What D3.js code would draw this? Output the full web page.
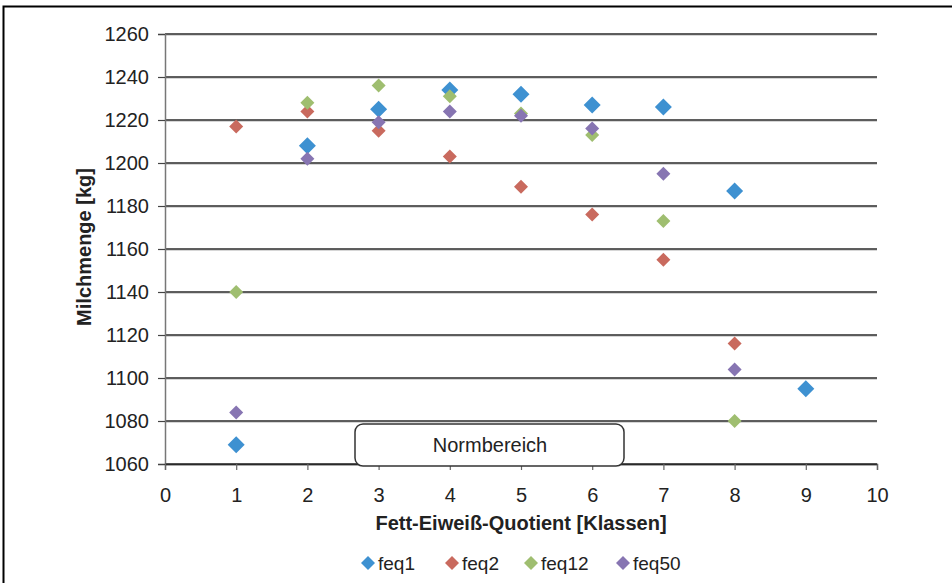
<!DOCTYPE html>
<html>
<head>
<meta charset="utf-8">
<script src="https://cdn.jsdelivr.net/npm/d3@7"></script>
<style>
  body { margin: 0; background: #fff; }
  svg { display: block; font-family: "Liberation Sans", Arial, sans-serif; }
</style>
</head>
<body>
<svg id="chart" width="952" height="583"></svg>
<script>
const classes = [1, 2, 3, 4, 5, 6, 7, 8, 9];
const feq1 = [1069, 1208, 1225, 1234, 1232, 1227, 1226, 1187, 1095];
const feq2 = [1217, 1224, 1215, 1203, 1189, 1176, 1155, 1116];
const feq12 = [1140, 1228, 1236, 1231, 1223, 1213, 1173, 1080];
const feq50 = [1084, 1202, 1219, 1224, 1222, 1216, 1195, 1104];
const xTicks = [0, 1, 2, 3, 4, 5, 6, 7, 8, 9, 10];
const yTicks = [1060, 1080, 1100, 1120, 1140, 1160, 1180, 1200, 1220, 1240, 1260];

const series = [
  { name: "feq1", values: feq1, color: "#3e91d1", size: 8.5 },
  { name: "feq2", values: feq2, color: "#c96a5e", size: 7 },
  { name: "feq12", values: feq12, color: "#9fbe70", size: 7 },
  { name: "feq50", values: feq50, color: "#8775b2", size: 7 },
];

const plot = { left: 165, right: 877, top: 34, bottom: 464 };
const FONT = "Liberation Sans, Arial, sans-serif";

const x = d3.scaleLinear().domain([0, 10]).range([plot.left, plot.right]);
const y = d3.scaleLinear().domain([1060, 1260]).range([plot.bottom, plot.top]);

const svg = d3.select("#chart");

// outer frame
svg.append("rect")
  .attr("x", 3.5).attr("y", 6.5)
  .attr("width", 960).attr("height", 600)
  .attr("fill", "none").attr("stroke", "#000").attr("stroke-width", 2);

// gridlines with a light shadow
const grid = svg.append("g");
grid.selectAll("line.shadow")
  .data(yTicks)
  .join("line")
  .attr("class", "shadow")
  .attr("x1", plot.left).attr("x2", plot.right)
  .attr("y1", (d) => y(d) + 1.2).attr("y2", (d) => y(d) + 1.2)
  .attr("stroke", "#c4c4c4").attr("stroke-width", 1);
grid.selectAll("line.main")
  .data(yTicks)
  .join("line")
  .attr("class", "main")
  .attr("x1", plot.left).attr("x2", plot.right)
  .attr("y1", (d) => y(d)).attr("y2", (d) => y(d))
  .attr("stroke", "#2a2a2a").attr("stroke-width", 1.3);

// y axis
const yAxis = svg.append("g")
  .attr("transform", `translate(${plot.left},0)`)
  .call(d3.axisLeft(y).tickValues(yTicks).tickFormat(d3.format("d")).tickSize(7).tickPadding(9));
yAxis.select(".domain").attr("stroke", "#777").attr("stroke-width", 1.5);
yAxis.selectAll(".tick line").attr("stroke", "#444").attr("stroke-width", 1.2);
yAxis.selectAll(".tick text")
  .attr("font-size", 20).attr("fill", "#222").attr("font-family", FONT);

// x axis
const xAxis = svg.append("g")
  .attr("transform", `translate(0,${plot.bottom})`)
  .call(d3.axisBottom(x).tickValues(xTicks).tickFormat(d3.format("d")).tickSize(6).tickPadding(18));
xAxis.select(".domain").attr("stroke", "#2a2a2a").attr("stroke-width", 1.3);
xAxis.selectAll(".tick line").attr("stroke", "#666").attr("stroke-width", 1.2);
xAxis.selectAll(".tick text")
  .attr("font-size", 20).attr("fill", "#222").attr("font-family", FONT);

// axis titles
svg.append("text")
  .attr("x", (plot.left + plot.right) / 2).attr("y", 530)
  .attr("text-anchor", "middle")
  .attr("font-size", 20).attr("font-weight", "bold").attr("fill", "#222")
  .text("Fett-Eiweiß-Quotient [Klassen]");

svg.append("text")
  .attr("transform", `translate(91,247) rotate(-90)`)
  .attr("text-anchor", "middle")
  .attr("font-size", 20).attr("font-weight", "bold").attr("fill", "#222")
  .text("Milchmenge [kg]");

// Normbereich box
const norm = svg.append("g");
norm.append("rect")
  .attr("x", 355).attr("y", 424)
  .attr("width", 269).attr("height", 42)
  .attr("rx", 8).attr("ry", 8)
  .attr("fill", "#fff").attr("stroke", "#333").attr("stroke-width", 1.5);
norm.append("text")
  .attr("x", 490).attr("y", 452)
  .attr("text-anchor", "middle")
  .attr("font-size", 20).attr("fill", "#222")
  .text("Normbereich");

// diamonds
const diamond = (s) => `M0,${-s}L${s},0L0,${s}L${-s},0Z`;

series.forEach((s) => {
  svg.append("g")
    .selectAll("path")
    .data(s.values.map((v, i) => ({ cls: classes[i], v })))
    .join("path")
    .attr("transform", (d) => `translate(${x(d.cls)},${y(d.v)})`)
    .attr("d", diamond(s.size))
    .attr("fill", s.color);
});

// legend
const legendX = [368, 452, 531, 623];
const legend = svg.append("g");
series.forEach((s, i) => {
  legend.append("path")
    .attr("transform", `translate(${legendX[i]},563)`)
    .attr("d", diamond(7))
    .attr("fill", s.color);
  legend.append("text")
    .attr("x", legendX[i] + 10).attr("y", 570)
    .attr("font-size", 19).attr("fill", "#222")
    .text(s.name);
});
</script>
</body>
</html>
